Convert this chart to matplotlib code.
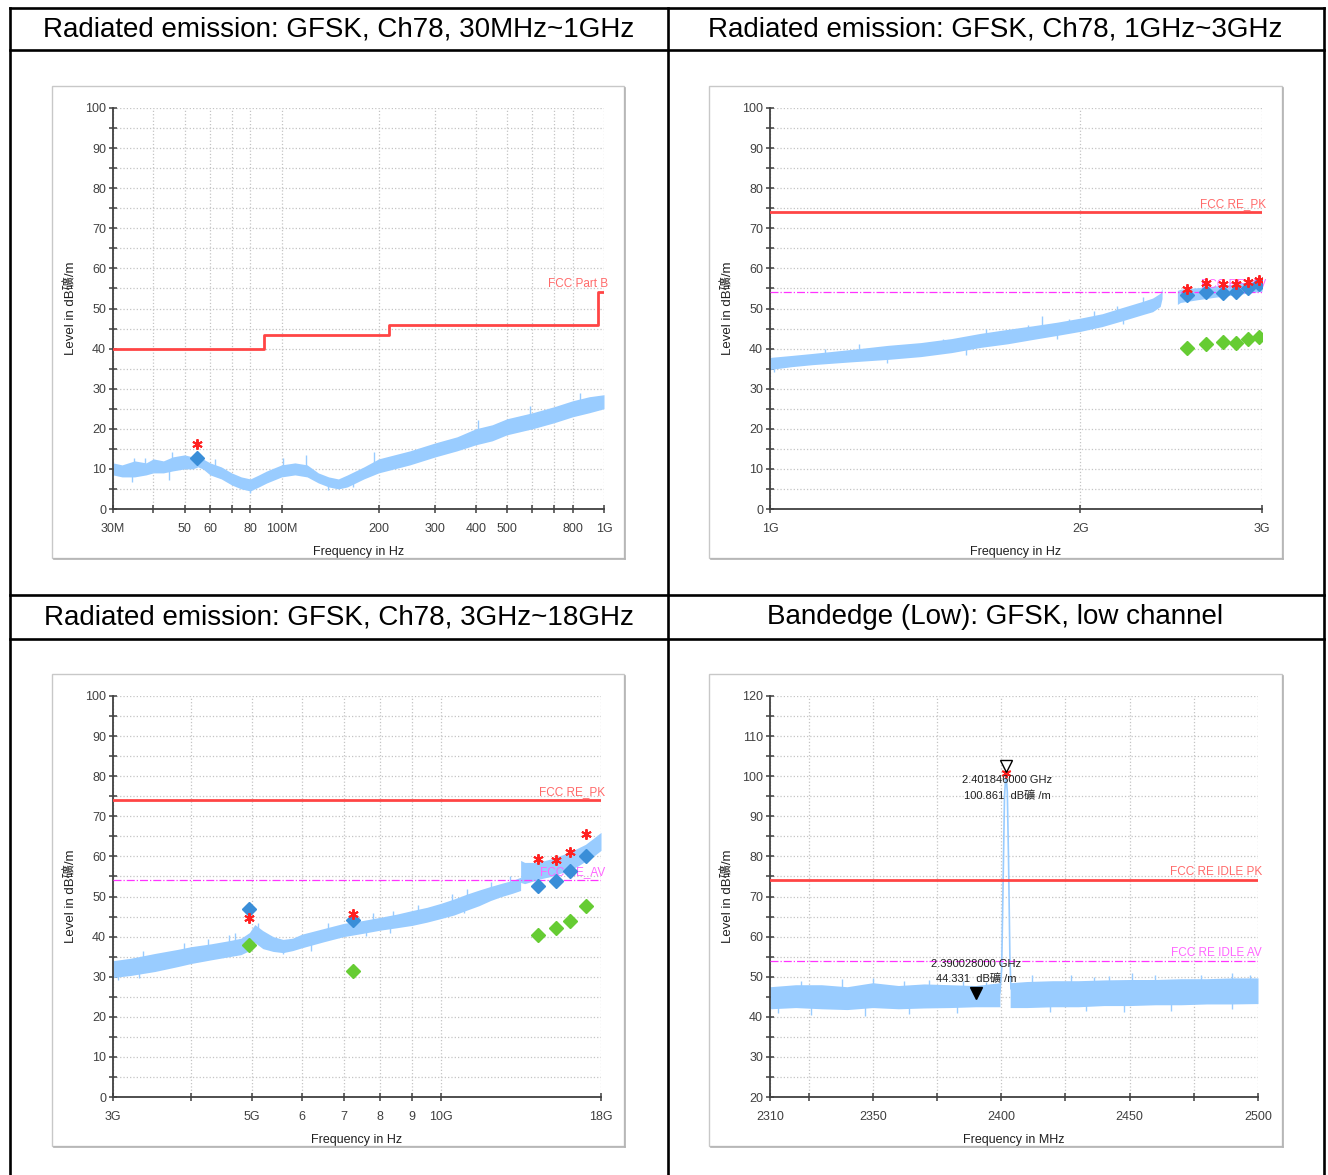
import matplotlib
matplotlib.use("Agg")
import matplotlib.pyplot as plt
from matplotlib.patches import Rectangle
from matplotlib.lines import Line2D
from matplotlib.ticker import NullFormatter

W, H = 1328, 1175
SANS = ['Liberation Sans', 'Noto Sans CJK TC', 'DejaVu Sans']

TRACE = '#99ccff'
LIMIT_RED = '#ff4545'
AV_MAG = '#ff33ff'

# ---------------- data ----------------
titles = ["Radiated emission: GFSK, Ch78, 30MHz~1GHz",
          "Radiated emission: GFSK, Ch78, 1GHz~3GHz",
          "Radiated emission: GFSK, Ch78, 3GHz~18GHz",
          "Bandedge (Low): GFSK, low channel"]

# panel 1: 30 MHz - 1 GHz (MHz)
p1_freq = [30, 32, 35, 38, 40, 43, 46, 50, 53, 55, 57, 60, 65, 70, 75, 80, 85, 90,
           100, 110, 120, 130, 140, 150, 160, 180, 200, 250, 300, 350, 400, 450,
           500, 600, 700, 800, 900, 1000]
p1_lo = [8.5, 8.0, 8.0, 8.5, 9.0, 9.0, 9.5, 10.0, 10.0, 10.5, 10.0, 8.5, 7.5, 6.0,
         5.0, 4.5, 5.5, 6.5, 8.0, 8.5, 8.0, 6.5, 5.5, 5.0, 5.5, 7.5, 9.0, 11.0,
         13.0, 14.5, 16.0, 17.0, 18.5, 20.0, 21.5, 23.0, 24.0, 25.0]
p1_hi = [11.5, 11.0, 12.0, 11.5, 12.5, 12.0, 13.0, 13.5, 13.0, 13.5, 12.5, 11.5,
         10.5, 9.0, 8.0, 7.5, 8.5, 9.5, 11.0, 11.5, 11.0, 9.0, 8.0, 7.5, 8.5, 10.5,
         12.5, 14.5, 16.5, 18.0, 20.0, 21.0, 22.5, 24.0, 25.5, 27.0, 28.0, 28.5]
p1_spike_f = [34.4, 34.8, 37.6, 44.7, 45.8, 62, 79.6, 101, 119, 139, 167, 193, 408, 591, 840]
p1_spike_lo = [6.7, 10.0, 10.0, 7.2, 11.0, 10.0, 3.9, 9.0, 10.0, 4.8, 5.5, 11.0, 18.0, 22.0, 25.0]
p1_spike_hi = [9.5, 12.6, 12.8, 10.0, 14.3, 12.4, 6.0, 12.8, 13.4, 7.0, 8.0, 14.2, 22.3, 25.7, 29.0]
p1_limit_freq = [30, 88, 88, 216, 216, 960, 960, 1000]
p1_limit_val = [40, 40, 43.5, 43.5, 46, 46, 54, 54]
p1_mark_freq = [54.5]
p1_pk = [16.3]
p1_qp = [12.8]

# panel 2: 1 GHz - 3 GHz (GHz)
p2_freq_a = [1.0, 1.05, 1.1, 1.2, 1.3, 1.4, 1.5, 1.6, 1.7, 1.8, 1.9, 2.0, 2.1, 2.2,
             2.3, 2.35, 2.39, 2.40]
p2_lo_a = [34.8, 35.5, 36.0, 36.7, 37.3, 38.0, 39.0, 40.3, 41.2, 42.3, 43.3, 44.3,
           45.5, 47.0, 48.5, 49.2, 50.5, 52.5]
p2_hi_a = [37.8, 38.3, 38.8, 39.8, 40.8, 41.5, 42.5, 43.8, 44.8, 45.7, 46.6, 47.6,
           48.7, 50.3, 51.8, 52.6, 53.8, 55.0]
p2_freq_b = [2.4835, 2.5, 2.6, 2.7, 2.8, 2.9, 3.0]
p2_lo_b = [51.0, 51.5, 52.2, 52.8, 53.3, 53.8, 54.3]
p2_hi_b = [54.5, 54.8, 55.2, 55.6, 56.0, 56.6, 57.2]
p2_spike_f = [1.01, 1.13, 1.22, 1.30, 1.33, 1.47, 1.55, 1.62, 1.78, 1.835, 1.90, 1.95,
              2.06, 2.17, 2.20, 2.30]
p2_spike_lo = [34.2, 37.0, 38.0, 36.3, 38.5, 40.0, 38.5, 42.0, 43.5, 45.0, 42.5, 45.5,
               47.0, 48.0, 46.2, 50.0]
p2_spike_hi = [36.5, 39.8, 41.2, 38.5, 41.0, 42.5, 40.5, 44.8, 46.0, 48.1, 44.5, 47.5,
               49.5, 50.5, 48.0, 52.8]
p2_mark_freq = [2.537, 2.647, 2.750, 2.830, 2.909, 2.977]
p2_pk = [54.9, 56.3, 56.0, 56.0, 56.6, 57.0]
p2_peak_det = [53.3, 54.1, 53.9, 54.0, 55.2, 56.0]
p2_avg = [40.2, 41.1, 41.7, 41.4, 42.5, 42.9]

# panel 3: 3 GHz - 18 GHz (GHz)
p3_freq_a = [3.0, 3.2, 3.5, 3.8, 4.0, 4.3, 4.6, 4.8, 4.95, 5.05, 5.2, 5.4, 5.6, 5.8,
             6.0, 6.5, 7.0, 7.5, 8.0, 8.5, 9.0, 9.5, 10.0, 10.5, 11.0, 11.5, 12.0,
             12.5, 13.0, 13.4]
p3_lo_a = [29.8, 30.3, 31.3, 32.5, 33.3, 34.2, 35.0, 35.5, 36.5, 38.5, 37.0, 36.3,
           36.0, 36.5, 37.2, 38.7, 40.0, 40.8, 41.6, 42.2, 42.8, 43.6, 44.5, 45.4,
           46.6, 47.7, 49.0, 50.0, 50.8, 51.5]
p3_hi_a = [34.0, 34.6, 35.8, 36.8, 37.5, 38.2, 39.0, 39.6, 41.0, 43.0, 41.5, 40.0,
           39.3, 39.6, 40.6, 42.0, 43.3, 44.0, 44.8, 45.6, 46.5, 47.3, 48.3, 49.4,
           50.6, 51.6, 52.5, 53.3, 54.0, 54.8]
p3_freq_b = [13.4, 13.6, 14.0, 14.5, 15.0, 15.5, 16.0, 16.5, 17.0, 17.5, 18.0]
p3_lo_b = [53.5, 53.2, 53.8, 54.5, 55.0, 55.8, 56.5, 57.5, 58.8, 60.0, 61.5]
p3_hi_b = [59.0, 58.5, 58.5, 58.8, 59.4, 60.2, 61.0, 62.0, 63.0, 64.5, 66.0]
p3_spike_f = [3.05, 3.3, 3.35, 3.9, 4.25, 4.6, 4.7, 5.1, 5.6, 6.2, 6.6, 7.6, 7.8, 8.3,
              8.4, 9.2, 10.4, 10.9, 11.0, 12.0, 12.9]
p3_spike_lo = [29.2, 29.8, 33.0, 35.0, 36.0, 37.0, 37.5, 40.0, 35.6, 36.5, 40.0, 40.2,
               42.5, 41.0, 43.5, 44.5, 47.0, 45.8, 48.5, 50.0, 51.5]
p3_spike_hi = [32.0, 32.0, 36.5, 38.5, 39.4, 40.5, 40.8, 43.5, 37.5, 38.5, 43.4, 42.0,
               45.8, 43.0, 46.5, 47.8, 50.5, 48.0, 51.8, 53.5, 55.0]
p3_mark_freq = [4.95, 7.25, 14.28, 15.24, 16.05, 17.05]
p3_pk = [44.6, 45.7, 59.4, 59.2, 61.0, 65.6]
p3_peak_det = [47.0, 44.2, 52.5, 53.9, 56.4, 60.0]
p3_avg = [37.8, 31.4, 40.5, 42.2, 44.0, 47.6]

# panel 4: bandedge 2310 - 2500 MHz
p4_freq_a = [2310, 2320, 2330, 2340, 2350, 2360, 2370, 2380, 2390, 2399.5]
p4_lo_a = [42.0, 42.3, 42.0, 41.8, 42.3, 42.0, 42.2, 42.3, 42.5, 42.5]
p4_hi_a = [47.5, 48.0, 48.0, 47.5, 48.5, 47.8, 48.2, 48.0, 47.8, 48.5]
p4_peak_freq = [2399.5, 2400.2, 2400.8, 2401.3, 2401.85, 2402.4, 2402.9, 2403.4, 2403.8]
p4_peak_val = [46, 52, 75, 95, 100.8, 96, 78, 55, 47]
p4_freq_b = [2403.5, 2410, 2420, 2430, 2440, 2450, 2460, 2470, 2480, 2490, 2500]
p4_lo_b = [42.3, 42.3, 42.5, 42.5, 42.8, 42.8, 43.0, 43.0, 43.2, 43.2, 43.3]
p4_hi_b = [48.5, 48.8, 49.0, 49.0, 49.2, 49.3, 49.3, 49.5, 49.5, 49.7, 49.7]
p4_spike_f = [2313, 2322, 2326, 2338, 2347, 2350, 2362, 2364, 2372, 2383, 2385, 2394,
              2412, 2419, 2427, 2433, 2436, 2442, 2448, 2451, 2460, 2466, 2478, 2490, 2497]
p4_spike_lo = [41.0, 45.0, 40.5, 45.0, 40.3, 45.0, 45.0, 40.8, 45.0, 41.0, 45.0, 45.0,
               46.0, 41.3, 46.0, 41.5, 46.0, 46.0, 41.3, 46.0, 46.0, 41.5, 46.0, 42.0, 46.0]
p4_spike_hi = [44.0, 49.0, 44.0, 49.5, 44.0, 49.7, 49.0, 44.0, 49.3, 44.0, 49.0, 48.7,
               50.5, 44.5, 50.3, 44.5, 50.0, 50.2, 44.5, 51.0, 50.4, 44.5, 50.3, 51.0, 50.5]
p4_m1 = (2401.846, 100.861)
p4_m2 = (2390.028, 44.331)

pk_limit = 74
av_limit = 54

fig = plt.figure(figsize=(W / 100, H / 100), dpi=100)
fig.patch.set_facecolor('white')


def px_axes(x0, x1, ytop, ybot):
    return fig.add_axes([x0 / W, 1 - ybot / H, (x1 - x0) / W, (ybot - ytop) / H])


def frame(x0, y0, x1, y1):
    fig.add_artist(Rectangle((x0 / W, 1 - y1 / H), (x1 - x0) / W, (y1 - y0) / H,
                             transform=fig.transFigure, fill=False,
                             edgecolor='#c8c8c8', linewidth=1.0))
    fig.add_artist(Line2D([(x0 + 2) / W, (x1 + 1) / W], [1 - (y1 + 1) / H] * 2,
                          transform=fig.transFigure, color='#b4b4b4', lw=1.2))
    fig.add_artist(Line2D([(x1 + 1) / W] * 2, [1 - (y0 + 2) / H, 1 - (y1 + 1) / H],
                          transform=fig.transFigure, color='#b4b4b4', lw=1.2))


def trace(ax, f, lo, hi):
    ax.fill_between(f, lo, hi, color=TRACE, lw=0, zorder=2)


def spikes(ax, f, lo, hi):
    ax.vlines(f, lo, hi, color=TRACE, lw=1.0, zorder=2)


def style(ax, ylo, yhi, xlabel):
    ax.set_ylim(ylo, yhi)
    ax.set_yticks(range(ylo, yhi + 1, 10))
    ax.set_yticks(range(ylo + 5, yhi, 10), minor=True)
    ax.yaxis.set_minor_formatter(NullFormatter())
    for s in ['top', 'right']:
        ax.spines[s].set_visible(False)
    for s in ['left', 'bottom']:
        ax.spines[s].set_color('#404040')
        ax.spines[s].set_linewidth(1.3)
    ax.tick_params(which='both', direction='inout', length=6, width=1.1,
                   color='#404040', labelcolor='#404040', labelsize=9)
    ax.tick_params(axis='x', pad=7)
    ax.tick_params(axis='y', pad=2)
    for lab in ax.get_xticklabels() + ax.get_yticklabels():
        lab.set_family(SANS)
    ax.grid(True, which='both', color='#c4c4c4', linestyle=':', linewidth=0.9)
    ax.set_axisbelow(True)
    ax.set_xlabel(xlabel, family=SANS, fontsize=9, color='#202020')
    ax.set_ylabel('Level in dB礦/m', family=SANS, fontsize=9.5, color='#202020')
    ax.xaxis.set_label_coords(0.5, -0.092)
    ax.yaxis.set_label_coords(-0.073, 0.5)


def limit_label(ax, text, y, color):
    ax.text(1.008, y, text, transform=ax.get_yaxis_transform(), ha='right',
            va='bottom', family=SANS, fontsize=8.5, color=color, clip_on=False)


def markers(ax, f, pk, det, avg=None):
    ax.plot(f, pk, linestyle='none', marker=(6, 2, 0), ms=7.5, mew=1.4,
            color='#ff2020', zorder=6)
    ax.plot(f, det, linestyle='none', marker='D', ms=7.5, color='#3a8ed8',
            mec='#3a8ed8', zorder=5)
    if avg is not None:
        ax.plot(f, avg, linestyle='none', marker='D', ms=7.5, color='#66cc33',
                mec='#66cc33', zorder=5)


# ---------------- table grid + headers ----------------
tl = 1.9
for y in [7.5, 50, 594.5, 638.5]:
    fig.add_artist(Line2D([9.5 / W, 1323.5 / W], [1 - y / H] * 2,
                          transform=fig.transFigure, color='black', lw=tl))
for x in [9.5, 667.5, 1323.5]:
    fig.add_artist(Line2D([x / W] * 2, [1 - 7.5 / H, 0],
                          transform=fig.transFigure, color='black', lw=tl))
header_pos = [(338.5, 29), (995.5, 29), (338.5, 617), (995.5, 617)]
for (x, y), t in zip(header_pos, titles):
    fig.text(x / W, 1 - y / H, t, ha='center', va='center', family=SANS,
             fontsize=20, color='black')

# ---------------- panel 1 ----------------
frame(52, 86, 624, 558)
ax1 = px_axes(113, 604, 108, 509)
ax1.set_xscale('log')
trace(ax1, p1_freq, p1_lo, p1_hi)
spikes(ax1, p1_spike_f, p1_spike_lo, p1_spike_hi)
ax1.plot(p1_limit_freq, p1_limit_val, color=LIMIT_RED, lw=2, zorder=3)
markers(ax1, p1_mark_freq, p1_pk, p1_qp)
ax1.set_xlim(30, 1000)
ax1.set_xticks([30, 50, 60, 80, 100, 200, 300, 400, 500, 800, 1000],
               ['30M', '50', '60', '80', '100M', '200', '300', '400', '500', '800', '1G'])
ax1.set_xticks([40, 70, 600, 700], minor=True)
ax1.xaxis.set_minor_formatter(NullFormatter())
style(ax1, 0, 100, 'Frequency in Hz')
limit_label(ax1, 'FCC Part B', 54.5, '#ff6a6a')

# ---------------- panel 2 ----------------
frame(709, 86, 1282, 558)
ax2 = px_axes(770, 1262, 108, 509)
ax2.set_xscale('log')
trace(ax2, p2_freq_a, p2_lo_a, p2_hi_a)
trace(ax2, p2_freq_b, p2_lo_b, p2_hi_b)
spikes(ax2, p2_spike_f, p2_spike_lo, p2_spike_hi)
ax2.axhline(pk_limit, color=LIMIT_RED, lw=2, zorder=3)
ax2.axhline(av_limit, color=AV_MAG, lw=0.9, ls='-.', zorder=3)
markers(ax2, p2_mark_freq, p2_pk, p2_peak_det, p2_avg)
ax2.set_xlim(1, 3)
ax2.set_xticks([1, 2, 3], ['1G', '2G', '3G'])
ax2.set_xticks([], minor=True)
style(ax2, 0, 100, 'Frequency in Hz')
limit_label(ax2, 'FCC RE_PK', 74.5, '#ff6a6a')
limit_label(ax2, 'FCC RE_AV', 54.5, '#ff66ff')

# ---------------- panel 3 ----------------
frame(52, 674, 624, 1146)
ax3 = px_axes(113, 601, 696, 1097)
ax3.set_xscale('log')
trace(ax3, p3_freq_a, p3_lo_a, p3_hi_a)
trace(ax3, p3_freq_b, p3_lo_b, p3_hi_b)
spikes(ax3, p3_spike_f, p3_spike_lo, p3_spike_hi)
ax3.axhline(pk_limit, color=LIMIT_RED, lw=2, zorder=3)
ax3.axhline(av_limit, color=AV_MAG, lw=0.9, ls='-.', zorder=3)
markers(ax3, p3_mark_freq, p3_pk, p3_peak_det, p3_avg)
ax3.set_xlim(3, 18)
ax3.set_xticks([3, 5, 6, 7, 8, 9, 10, 18],
               ['3G', '5G', '6', '7', '8', '9', '10G', '18G'])
ax3.set_xticks([4], minor=True)
ax3.xaxis.set_minor_formatter(NullFormatter())
style(ax3, 0, 100, 'Frequency in Hz')
limit_label(ax3, 'FCC RE_PK', 74.5, '#ff6a6a')
limit_label(ax3, 'FCC RE_AV', 54.5, '#ff66ff')

# ---------------- panel 4 ----------------
frame(709, 674, 1282, 1146)
ax4 = px_axes(770, 1258, 696, 1097)
trace(ax4, p4_freq_a, p4_lo_a, p4_hi_a)
trace(ax4, p4_freq_b, p4_lo_b, p4_hi_b)
spikes(ax4, p4_spike_f, p4_spike_lo, p4_spike_hi)
ax4.plot(p4_peak_freq, p4_peak_val, color=TRACE, lw=1.2, zorder=2)
ax4.axhline(pk_limit, color=LIMIT_RED, lw=2, zorder=3)
ax4.axhline(av_limit, color=AV_MAG, lw=0.9, ls='-.', zorder=3)
ax4.plot([p4_m1[0]], [p4_m1[1]], linestyle='none', marker=(6, 2, 0), ms=7,
         mew=1.3, color='#ff2020', zorder=6)
ax4.plot([p4_m1[0]], [p4_m1[1] + 1.6], linestyle='none', marker='v', ms=9,
         mfc='white', mec='black', mew=1.0, zorder=7)
ax4.plot([p4_m2[0]], [p4_m2[1] + 1.6], linestyle='none', marker='v', ms=9,
         color='black', zorder=7)
ax4.text(p4_m1[0] + 0.5, 99.0, f'{p4_m1[0] / 1000:.9f} GHz', ha='center',
         va='center', family=SANS, fontsize=8, color='#202020', zorder=8)
ax4.text(p4_m1[0] + 0.5, 95.1, f'{p4_m1[1]:.3f}  dB礦 /m', ha='center',
         va='center', family=SANS, fontsize=8, color='#202020', zorder=8)
ax4.text(p4_m2[0] + 0.3, 53.2, f'{p4_m2[0] / 1000:.9f} GHz', ha='center',
         va='center', family=SANS, fontsize=8, color='#202020', zorder=8)
ax4.text(p4_m2[0] + 0.3, 49.4, f'{p4_m2[1]:.3f}  dB礦 /m', ha='center',
         va='center', family=SANS, fontsize=8, color='#202020', zorder=8)
ax4.set_xlim(2310, 2500)
ax4.set_xticks([2310, 2350, 2400, 2450, 2500])
ax4.set_xticks([2325, 2375, 2425, 2475], minor=True)
ax4.xaxis.set_minor_formatter(NullFormatter())
style(ax4, 20, 120, 'Frequency in MHz')
limit_label(ax4, 'FCC RE IDLE PK', 74.5, '#ff6a6a')
limit_label(ax4, 'FCC RE IDLE AV', 54.5, '#ff66ff')

fig.savefig('out.png', dpi=100, facecolor='white')
